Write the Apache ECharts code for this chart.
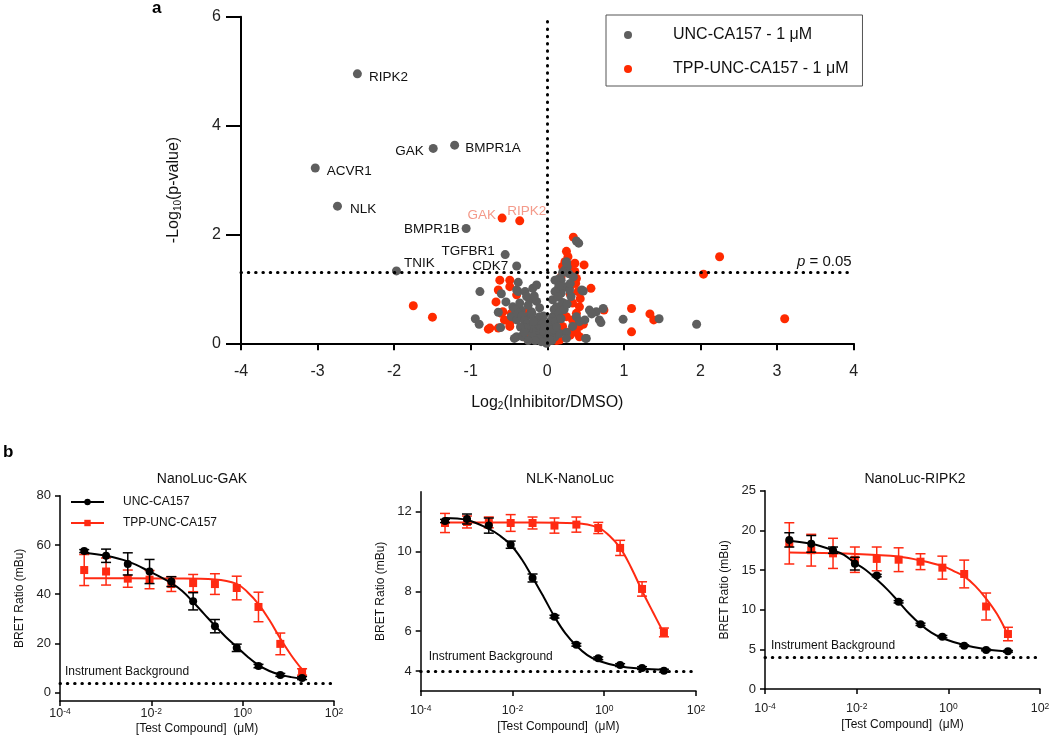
<!DOCTYPE html>
<html><head><meta charset="utf-8">
<script src="https://cdn.jsdelivr.net/npm/echarts@6/dist/echarts.min.js"></script>
<style>html,body{margin:0;padding:0;background:#fff}#c{width:1050px;height:739px}</style>
</head><body><div id="c"></div>
<script>
// ---------- Panel a data (volcano) ----------
const grayPts = [
[-0.88,0.95],[-0.94,0.45],[-0.89,0.35],[-0.64,0.57],[-0.61,0.29],[-0.60,0.91],[-0.54,0.76],[-0.40,0.98],[-0.38,1.12],
[-0.38,0.95],[-0.29,0.95],[-0.45,0.67],[-0.34,0.61],[-0.23,0.80],[-0.14,0.77],[-0.19,1.01],[-0.14,1.07],[-0.36,0.74],
[-0.27,0.86],[-0.47,0.49],[-0.40,0.43],[-0.27,0.49],[-0.21,0.58],[-0.17,0.43],[-0.10,0.49],[-0.06,0.37],[-0.40,0.12],
[-0.32,0.15],[-0.23,0.24],[-0.14,0.18],[-0.06,0.15],[0.01,0.09],[-0.01,0.00],[0.10,0.12],[0.16,0.18],[-0.43,0.09],
[-0.32,0.12],[-0.17,0.87],[-0.42,0.62],[-0.38,0.55],[-0.33,0.50],[-0.30,0.42],[-0.26,0.36],[-0.22,0.30],[-0.18,0.25],
[-0.14,0.22],[-0.10,0.16],[-0.07,0.12],[-0.04,0.08],[-0.02,0.04],[-0.28,0.28],[-0.20,0.12],[-0.12,0.08],[-0.08,0.03],
[-0.16,0.05],[-0.25,0.05],[-0.35,0.30],[-0.30,0.20],[-0.12,0.35],[-0.18,0.40],[-0.08,0.28],[-0.05,0.22],[-0.20,0.55],
[-0.25,0.70],[-0.10,0.65],[-0.05,0.50],[-0.03,0.32],
[0.25,1.50],[0.26,1.40],[0.23,1.35],[0.16,1.19],[0.12,1.16],[0.18,1.16],[0.10,1.16],[0.23,1.04],[0.18,0.92],[0.07,0.80],
[0.12,0.67],[0.07,0.49],[0.05,0.31],[0.31,0.86],[0.38,0.49],[0.42,0.40],[0.34,1.22],[0.28,1.28],[0.20,1.30],[0.15,1.05],
[0.10,0.95],[0.14,0.85],[0.20,0.75],[0.09,0.62],[0.15,0.55],[0.04,0.40],[0.11,0.40],[0.03,0.22],[0.08,0.25],[0.02,0.12],
[0.06,0.05],[0.12,0.30],[0.18,0.45],[0.22,0.62],[0.26,0.72],[0.29,0.98],[0.33,0.31],[0.25,0.20],[0.45,0.98],[0.47,0.96],
[0.38,1.88],[0.41,1.84],[0.30,1.10],[0.25,1.47],
[0.55,0.61],[0.73,0.64],[0.68,0.43],[0.99,0.44],[0.50,0.09],[0.64,0.58],[0.70,0.38],[0.58,0.54],[0.49,0.43],[0.25,0.09],
[0.51,0.09],[1.46,0.45],[1.95,0.35],[0.03,0.06]
];
const redPts = [
[-1.75,0.69],[-1.50,0.48],[-0.77,0.26],[-0.64,0.28],[-0.62,1.16],[-0.49,1.16],[-0.49,1.04],[-0.64,0.98],[-0.67,0.76],
[-0.60,0.55],[-0.56,0.43],[-0.75,0.28],[-0.49,0.31],[-0.25,0.61],[-0.27,0.24],[-0.21,0.09],[-0.40,0.89],[-0.47,0.55],
[-0.58,0.58],[-0.23,0.10],[0.12,0.05],[-0.49,0.37],[-0.30,0.12],
[0.34,1.95],[0.25,1.69],[0.27,1.59],[0.23,1.50],[0.29,1.41],[0.36,1.32],[0.48,1.44],[0.38,1.19],[0.31,1.07],[0.40,0.95],
[0.57,1.01],[0.33,0.74],[0.42,0.67],[0.38,0.55],[0.33,0.43],[0.42,0.31],[0.29,0.21],[0.20,0.31],[0.25,0.49],[0.18,0.61],
[0.14,0.86],[0.16,1.04],[0.18,1.22],[0.20,1.41],[0.16,0.06],[0.42,0.12],[1.10,0.64],[1.10,0.21],[2.25,1.59],[2.04,1.27],
[3.10,0.45],[1.39,0.43],[1.34,0.54],[0.74,0.61],[0.36,1.47],[0.37,1.10],[0.43,0.82],[0.30,0.90],[0.35,0.30],[0.47,0.35],
[0.38,0.20],[0.30,0.15]
];
const grayLabels = ['RIPK2','GAK','BMPR1A','ACVR1','NLK','BMPR1B','TGFBR1','CDK7','TNIK'];
const grayLabelX = [-2.48,-1.49,-1.21,-3.03,-2.74,-1.06,-0.55,-0.40,-1.97];
const grayLabelY = [4.95,3.58,3.64,3.22,2.52,2.11,1.63,1.42,1.33];
const redLabels = ['GAK','RIPK2'];
const redLabelX = [-0.59,-0.36];
const redLabelY = [2.30,2.25];
const volcanoXTicks = [-4,4,1];
const pThreshold = 1.301;

// ---------- Panel b data (NanoBRET) ----------
const conc = [0.000339,0.00102,0.00305,0.00914,0.0274,0.0823,0.247,0.741,2.22,6.67,20];
const gakUNC = [57.5,55.6,52.3,49.2,45.1,37.1,27.0,18.2,10.8,7.2,5.9];
const gakUNCerr = [0.6,2.7,4.5,4.9,2.0,3.5,2.7,1.5,0.7,0.6,0.6];
const gakTPP = [49.8,49.2,46.3,45.9,44.1,44.5,44.1,42.5,34.8,19.8,8.4];
const gakTPPerr = [6.3,5.5,3.5,3.7,3.0,3.5,4.2,4.8,6.0,4.4,1.3];
const nlkUNC = [11.53,11.63,11.30,10.34,8.67,6.73,5.32,4.64,4.30,4.15,4.02];
const nlkUNCerr = [0.08,0.25,0.38,0.18,0.2,0.07,0.07,0.07,0.07,0.07,0.07];
const nlkTPP = [11.43,11.48,11.46,11.43,11.43,11.30,11.35,11.18,10.18,8.12,5.94];
const nlkTPPerr = [0.48,0.30,0.27,0.42,0.30,0.38,0.38,0.28,0.38,0.36,0.22];
const ripUNC = [18.8,18.3,17.5,15.8,14.3,11.0,8.15,6.6,5.46,4.92,4.75];
const ripUNCerr = [0.9,1.05,0.4,0.8,0.15,0.15,0.15,0.15,0.1,0.1,0.1];
const ripTPP = [18.36,17.5,17.1,16.3,16.4,16.3,16.05,15.3,14.5,10.4,6.93];
const ripTPPerr = [2.6,2.0,1.9,1.6,1.5,1.5,1.0,1.45,1.75,1.7,0.85];

// fitted curves
const gakUNCfitX = [0.000339,0.00102,0.00305,0.00914,0.0274,0.0475,0.0823,0.1426,0.247,0.428,0.741,1.283,2.22,3.85,6.67,11.55,20];
const gakUNCfitY = [56.7,55.6,53.3,49.2,44.5,41.3,36.8,32.0,27.2,22.6,18.6,14.6,11.2,8.8,7.3,6.3,5.6];
const gakTPPfitX = [0.000339,0.00305,0.0274,0.247,0.741,1.283,2.22,3.85,6.67,11.55,20];
const gakTPPfitY = [46.5,46.5,46.4,46.0,44.2,40.8,36.0,29.5,22.0,15.2,9.4];
const nlkUNCfitX = [0.000339,0.00102,0.00305,0.00528,0.00914,0.0158,0.0274,0.0475,0.0823,0.1426,0.247,0.428,0.741,2.22,6.67,20];
const nlkUNCfitY = [11.68,11.58,11.13,10.8,10.34,9.62,8.70,7.73,6.73,5.89,5.27,4.80,4.52,4.23,4.12,4.07];
const nlkTPPfitX = [0.000339,0.00305,0.0274,0.247,0.741,1.283,2.22,3.85,6.67,11.55,20];
const nlkTPPfitY = [11.45,11.45,11.45,11.42,11.2,10.8,10.18,9.2,8.03,6.95,5.9];
const ripUNCfitX = [0.000339,0.00102,0.00305,0.00528,0.00914,0.0158,0.0274,0.0475,0.0823,0.1426,0.247,0.428,0.741,2.22,6.67,20];
const ripUNCfitY = [18.7,18.3,17.5,16.9,15.9,15.0,13.8,12.5,11.0,9.45,8.15,7.1,6.4,5.55,5.0,4.7];
const ripTPPfitX = [0.000339,0.00305,0.0274,0.0823,0.247,0.741,1.283,2.22,3.85,6.67,11.55,20];
const ripTPPfitY = [17.2,17.1,16.9,16.7,16.2,15.5,14.9,14.2,13.0,11.4,9.45,6.8];
const background = 4;
const logTicks = [0.0001,0.01,1,100];
const panelTitles = ['NanoLuc-GAK','NLK-NanoLuc','NanoLuc-RIPK2'];

// ---------- build ----------
const FONT = 'Liberation Sans, Arial, sans-serif';
const GRAY = '#5e5e5e', RED = '#ff2a00', BRED = '#ff2a12', SALMON = '#f49a8a';
const zip = (a,b) => a.map((v,i)=>[v,b[i]]);

const labelCfg = {
  RIPK2:{position:'right',distance:7,offset:[0,3]},
  GAK:{position:'left',distance:5,offset:[0,3]},
  BMPR1A:{position:'right',distance:6,offset:[0,3]},
  ACVR1:{position:'right',distance:7,offset:[0,3]},
  NLK:{position:'right',distance:8,offset:[0,3]},
  BMPR1B:{position:'left',distance:2,offset:[0,1]},
  TGFBR1:{position:'left',distance:6,offset:[0,-3]},
  CDK7:{position:'left',distance:4,offset:[0,0]},
  TNIK:{position:'right',distance:3,offset:[0,-8]}
};
const redLabelCfg = {
  GAK:{position:'left',distance:1.5,offset:[0,-3]},
  RIPK2:{position:'top',distance:5,offset:[7,7]}
};
const grayData = grayPts.map(p=>({value:p}));
grayLabels.forEach((n,i)=>grayData.push({value:[grayLabelX[i],grayLabelY[i]],
  label:Object.assign({show:true,formatter:n,color:'#111',fontSize:13.5,fontFamily:FONT},labelCfg[n])}));
const redData = redPts.map(p=>({value:p}));
redLabels.forEach((n,i)=>redData.push({value:[redLabelX[i],redLabelY[i]],
  label:Object.assign({show:true,formatter:n,color:SALMON,fontSize:13.5,fontFamily:FONT},redLabelCfg[n])}));

const dotted = (w)=>({color:'#000',width:w,type:[0.5,6.8],cap:'round'});

const grids = [
  {left:241, top:16.7, width:612.6, height:326.6},
  {left:60, top:495.7, width:274, height:205.3},
  {left:420.7, top:491.7, width:275.3, height:199.3},
  {left:765, top:490.7, width:275, height:198.3}
];
grids.forEach(g=>{g.outerBoundsMode='none'; g.containLabel=false;});

const supFmt = v => '{b|10}{s|' + Math.round(Math.log10(v)) + '}';
const logX = (gi, labelMargin) => ({
  type:'log', logBase:10, gridIndex:gi, min:0.0001, max:100,
  name:'[Test Compound]  (μM)', nameLocation:'middle', nameGap: gi===1?22:30,
  nameTextStyle:{fontFamily:FONT,fontSize:12,color:'#111'},
  axisLine:{onZero:false,lineStyle:{color:'#000',width:1.5}},
  axisTick:{show:true,length:5,lineStyle:{color:'#000',width:1.5},customValues:logTicks},
  minorTick:{show:false}, splitLine:{show:false}, minorSplitLine:{show:false},
  axisLabel:{customValues:logTicks, margin:labelMargin, formatter:supFmt, color:'#111',
    rich:{b:{fontSize:12.5,fontFamily:FONT,color:'#222'},s:{fontSize:8.5,fontFamily:FONT,color:'#222',verticalAlign:'top',padding:[0,0,5,0]}}}
});
const valY = (gi,min,max,ticks) => ({
  type:'value', gridIndex:gi, min:min, max:max,
  name:'BRET Ratio (mBu)', nameLocation:'middle', nameGap:34,
  nameTextStyle:{fontFamily:FONT,fontSize:12,color:'#111'},
  axisLine:{show:true,onZero:false,lineStyle:{color:'#000',width:1.5}},
  axisTick:{show:true,length:5,lineStyle:{color:'#000',width:1.5},customValues:ticks},
  splitLine:{show:false},
  axisLabel:{customValues:ticks,margin:9,fontFamily:FONT,fontSize:13,color:'#222'}
});

function errSeries(xi, means, errs, color, z){
  return {type:'custom', xAxisIndex:xi, yAxisIndex:xi, z:z, silent:true, animation:false,
    data: conc.map((c,i)=>[c, means[i]-errs[i], means[i]+errs[i]]),
    renderItem:function(params, api){
      const p1 = api.coord([api.value(0), api.value(1)]);
      const p2 = api.coord([api.value(0), api.value(2)]);
      const w = 5, st = {stroke:color, lineWidth:1.5};
      return {type:'group', children:[
        {type:'line', shape:{x1:p1[0],y1:p1[1],x2:p2[0],y2:p2[1]}, style:st},
        {type:'line', shape:{x1:p1[0]-w,y1:p1[1],x2:p1[0]+w,y2:p1[1]}, style:st},
        {type:'line', shape:{x1:p2[0]-w,y1:p2[1],x2:p2[0]+w,y2:p2[1]}, style:st}
      ]};
    }};
}
function fitSeries(xi, name, xs, ys, color, sym, z){
  return {type:'line', name:name, xAxisIndex:xi, yAxisIndex:xi, z:z, smooth:0.4, showSymbol:false,
    symbol:sym, symbolSize:8, data:zip(xs,ys), lineStyle:{color:color,width:2}, itemStyle:{color:color},
    animation:false, silent:true};
}
function ptSeries(xi, name, ys, color, sym, z){
  return {type:'scatter', name:name, xAxisIndex:xi, yAxisIndex:xi, z:z, symbol:sym, symbolSize:8,
    data:zip(conc,ys), itemStyle:{color:color,opacity:1}, animation:false, silent:true};
}
function bgSeries(xi, labelDist){
  return {type:'line', xAxisIndex:xi, yAxisIndex:xi, data:[], z:1, silent:true,
    markLine:{silent:true, symbol:['none','none'], animation:false,
      lineStyle:dotted(3),
      label:{show:true, position:'insideStartTop', distance:labelDist, formatter:'Instrument Background', fontFamily:FONT, fontSize:12, color:'#111'},
      data:[{yAxis:background}]}};
}

const series = [
  // panel a
  {type:'scatter', data:[], xAxisIndex:0, yAxisIndex:0, z:1, silent:true,
    markLine:{silent:true, symbol:['none','none'], animation:false, lineStyle:dotted(3),
      label:{show:false},
      data:[{xAxis:0},
        {yAxis:pThreshold, label:{show:true, position:'insideEndTop', distance:[2,3], formatter:'{i|p} = 0.05',
          rich:{i:{fontStyle:'italic',fontSize:15,fontFamily:FONT,color:'#111'}}, fontSize:15, fontFamily:FONT, color:'#111'}}]}},
  {type:'scatter', name:'TPP-UNC-CA157 - 1 μM', xAxisIndex:0, yAxisIndex:0, z:3, symbolSize:9,
    itemStyle:{color:RED,opacity:1}, data:redData, animation:false},
  {type:'scatter', name:'UNC-CA157 - 1 μM', xAxisIndex:0, yAxisIndex:0, z:4, symbolSize:9,
    itemStyle:{color:GRAY,opacity:1}, data:grayData, animation:false},
  // GAK
  bgSeries(1,5),
  errSeries(1, gakTPP, gakTPPerr, BRED, 3),
  fitSeries(1, 'TPP-UNC-CA157', gakTPPfitX, gakTPPfitY, BRED, 'rect', 3),
  ptSeries(1, 'tppGAK', gakTPP, BRED, 'rect', 4),
  errSeries(1, gakUNC, gakUNCerr, '#000', 5),
  fitSeries(1, 'UNC-CA157', gakUNCfitX, gakUNCfitY, '#000', 'circle', 5),
  ptSeries(1, 'uncGAK', gakUNC, '#000', 'circle', 6),
  // NLK
  bgSeries(2,8),
  errSeries(2, nlkTPP, nlkTPPerr, BRED, 3),
  fitSeries(2, 'TPP-UNC-CA157', nlkTPPfitX, nlkTPPfitY, BRED, 'rect', 3),
  ptSeries(2, 'tppNLK', nlkTPP, BRED, 'rect', 4),
  errSeries(2, nlkUNC, nlkUNCerr, '#000', 5),
  fitSeries(2, 'UNC-CA157', nlkUNCfitX, nlkUNCfitY, '#000', 'circle', 5),
  ptSeries(2, 'uncNLK', nlkUNC, '#000', 'circle', 6),
  // RIPK2
  bgSeries(3,6),
  errSeries(3, ripTPP, ripTPPerr, BRED, 3),
  fitSeries(3, 'TPP-UNC-CA157', ripTPPfitX, ripTPPfitY, BRED, 'rect', 3),
  ptSeries(3, 'tppRIP', ripTPP, BRED, 'rect', 4),
  errSeries(3, ripUNC, ripUNCerr, '#000', 5),
  fitSeries(3, 'UNC-CA157', ripUNCfitX, ripUNCfitY, '#000', 'circle', 5),
  ptSeries(3, 'uncRIP', ripUNC, '#000', 'circle', 6)
];

const option = {
  backgroundColor:'#fff', animation:false,
  textStyle:{fontFamily:FONT},
  grid: grids,
  title: [
    {text:panelTitles[0], left:197, top:467, textAlign:'center', textStyle:{fontFamily:FONT,fontSize:14,fontWeight:'normal',color:'#111'}},
    {text:panelTitles[1], left:565, top:467, textAlign:'center', textStyle:{fontFamily:FONT,fontSize:14,fontWeight:'normal',color:'#111'}},
    {text:panelTitles[2], left:910, top:467, textAlign:'center', textStyle:{fontFamily:FONT,fontSize:14,fontWeight:'normal',color:'#111'}}
  ],
  legend: [
    {data:['UNC-CA157 - 1 μM','TPP-UNC-CA157 - 1 μM'], orient:'vertical', left:606, top:15,
      padding:[12,14,9,18], itemWidth:8, itemHeight:8, itemGap:18, borderColor:'#555', borderWidth:1,
      selectedMode:false, textStyle:{fontFamily:FONT,fontSize:16,color:'#111',padding:[0,0,0,36]}},
    {data:['UNC-CA157','TPP-UNC-CA157'], orient:'vertical', left:70, top:496, padding:0,
      itemWidth:33, itemHeight:8, itemGap:9, selectedMode:false,
      textStyle:{fontFamily:FONT,fontSize:12,color:'#111',padding:[0,0,0,14]}}
  ],
  xAxis: [
    {type:'value', gridIndex:0, min:volcanoXTicks[0], max:volcanoXTicks[1], interval:volcanoXTicks[2],
      name:'{n|Log}{s|2}{n|(Inhibitor/DMSO)}', nameLocation:'middle', nameGap:50,
      nameTextStyle:{rich:{n:{fontFamily:FONT,fontSize:16,color:'#111'},s:{fontFamily:FONT,fontSize:10,color:'#111',verticalAlign:'bottom',padding:[8,0,0,0]}}},
      axisLine:{onZero:false,lineStyle:{color:'#000',width:2}},
      axisTick:{show:true,length:7,lineStyle:{color:'#000',width:2}},
      splitLine:{show:false},
      axisLabel:{margin:20,fontFamily:FONT,fontSize:16,color:'#222'}},
    logX(1,6), logX(2,13), logX(3,13)
  ],
  yAxis: [
    {type:'value', gridIndex:0, min:0, max:6, interval:2,
      name:'{n|-Log}{s|10}{n|(p-value)}', nameLocation:'middle', nameGap:58,
      nameTextStyle:{padding:[0,20,0,0],rich:{n:{fontFamily:FONT,fontSize:16,color:'#111'},s:{fontFamily:FONT,fontSize:10,color:'#111',verticalAlign:'bottom',padding:[8,0,0,0]}}},
      axisLine:{show:true,onZero:false,lineStyle:{color:'#000',width:2}},
      axisTick:{show:true,length:15,lineStyle:{color:'#000',width:2}},
      splitLine:{show:false},
      axisLabel:{margin:20,fontFamily:FONT,fontSize:16,color:'#222'}},
    valY(1,-3.4,80,[0,20,40,60,80]),
    valY(2,3,13,[4,6,8,10,12]),
    valY(3,0,25,[0,5,10,15,20,25])
  ],
  graphic:[
    {type:'text', left:152, top:0, style:{text:'a', fontFamily:FONT, fontSize:17, fontWeight:'bold', fill:'#000'}},
    {type:'text', left:3, top:444, style:{text:'b', fontFamily:FONT, fontSize:17, fontWeight:'bold', fill:'#000'}}
  ],
  series: series
};
const chart = echarts.init(document.getElementById('c'), null, {renderer:'canvas'});
chart.setOption(option);
</script></body></html>
